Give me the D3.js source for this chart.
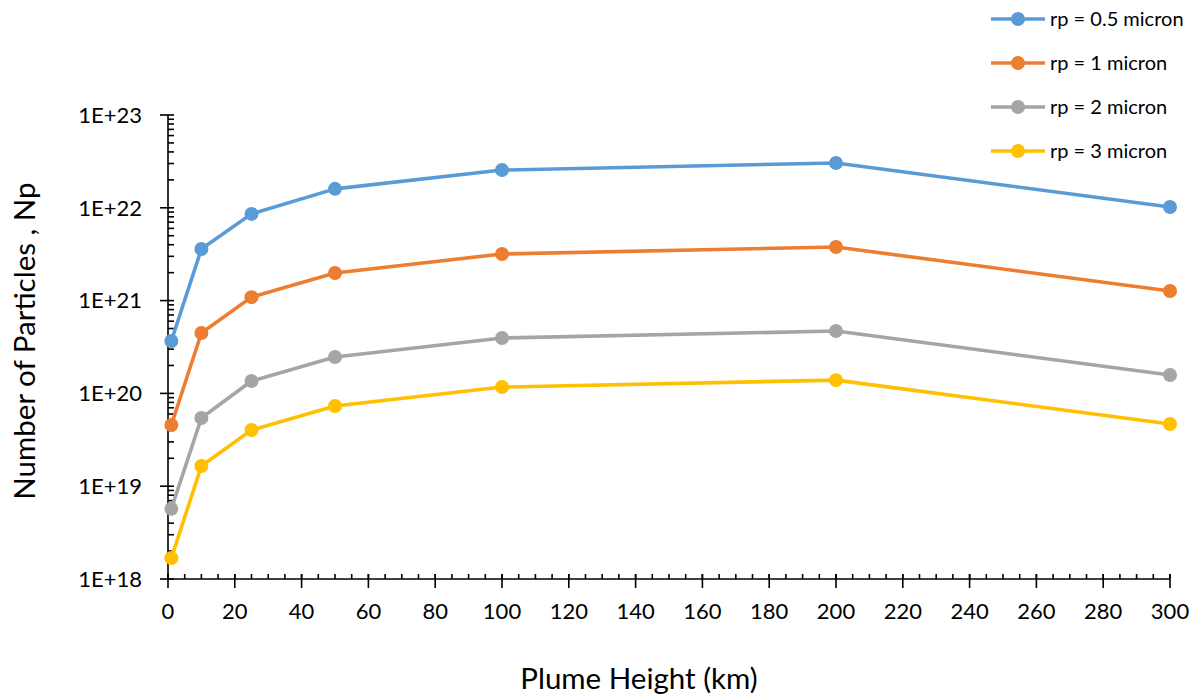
<!DOCTYPE html>
<html>
<head>
<meta charset="utf-8">
<script src="https://d3js.org/d3.v7.min.js"></script>
<style>
  body { margin: 0; background: #fff; }
  svg text { font-family: Lato, "Open Sans", sans-serif; fill: #000; }
  .axis line, .axis path { stroke: #000; stroke-width: 1.6; }
  .tick-label { font-size: 22px; }
  .title { font-size: 29.5px; }
  .legend text { font-size: 20px; }
</style>
</head>
<body>
<svg id="chart" width="1204" height="698"></svg>
<script>
  // plume heights (km)
  var heights = [1, 10, 25, 50, 100, 200, 300];
  var seriesNames = ['rp = 0.5 micron', 'rp = 1 micron', 'rp = 2 micron', 'rp = 3 micron'];
  var colors = ['#5B9BD5', '#ED7D31', '#A5A5A5', '#FFC000'];
  var rp05 = [3.67e20, 3.6e21, 8.6e21, 1.6e22, 2.55e22, 3.04e22, 1.02e22];
  var rp1 = [4.57e19, 4.48e20, 1.09e21, 1.98e21, 3.18e21, 3.78e21, 1.27e21];
  var rp2 = [5.7e18, 5.43e19, 1.36e20, 2.47e20, 3.95e20, 4.7e20, 1.58e20];
  var rp3 = [1.68e18, 1.65e19, 4.03e19, 7.31e19, 1.17e20, 1.39e20, 4.68e19];
  var xTicks = d3.range(0, 301, 20);
  var yTicks = [1e18, 1e19, 1e20, 1e21, 1e22, 1e23];
  var yLabels = ['1E+18', '1E+19', '1E+20', '1E+21', '1E+22', '1E+23'];

  var allSeries = [rp05, rp1, rp2, rp3];

  var svg = d3.select('#chart');
  var x = d3.scaleLinear().domain([0, 300]).range([168, 1170]);
  var y = d3.scaleLog().domain([1e18, 1e23]).range([579, 115]);

  // minor ticks on y (inside)
  var yMinor = [];
  for (var k = 18; k < 23; k++) {
    for (var m = 2; m <= 9; m++) yMinor.push(m * Math.pow(10, k));
  }
  var gy = svg.append('g').attr('class', 'axis');
  gy.append('line').attr('x1', x(0)).attr('x2', x(0)).attr('y1', y(1e18)).attr('y2', y(1e23));
  gy.selectAll('line.minor').data(yMinor).enter().append('line')
    .attr('class', 'minor')
    .attr('x1', x(0)).attr('x2', x(0) + 6)
    .attr('y1', function(d) { return y(d); }).attr('y2', function(d) { return y(d); });
  gy.selectAll('line.major').data(yTicks).enter().append('line')
    .attr('class', 'major')
    .attr('x1', x(0) - 8).attr('x2', x(0) + 6)
    .attr('y1', function(d) { return y(d); }).attr('y2', function(d) { return y(d); });
  gy.selectAll('text').data(yTicks).enter().append('text')
    .attr('class', 'tick-label')
    .attr('x', 142).attr('y', function(d) { return y(d); })
    .attr('dy', '0.35em').attr('text-anchor', 'end')
    .text(function(d, i) { return yLabels[i]; });

  // x axis
  var gx = svg.append('g').attr('class', 'axis');
  gx.append('line').attr('x1', x(0)).attr('x2', x(300)).attr('y1', y(1e18)).attr('y2', y(1e18));
  gx.selectAll('line.minor').data(d3.range(0, 301, 5)).enter().append('line')
    .attr('class', 'minor')
    .attr('x1', function(d) { return x(d); }).attr('x2', function(d) { return x(d); })
    .attr('y1', y(1e18) - 5).attr('y2', y(1e18));
  gx.selectAll('line.major').data(xTicks).enter().append('line')
    .attr('class', 'major')
    .attr('x1', function(d) { return x(d); }).attr('x2', function(d) { return x(d); })
    .attr('y1', y(1e18) - 5).attr('y2', y(1e18) + 9);
  gx.selectAll('text').data(xTicks).enter().append('text')
    .attr('class', 'tick-label')
    .attr('x', function(d) { return x(d); }).attr('y', 619)
    .attr('text-anchor', 'middle')
    .text(function(d) { return d; });

  // titles
  svg.append('text').attr('class', 'title')
    .attr('x', 639).attr('y', 689).attr('text-anchor', 'middle')
    .text('Plume Height (km)');
  svg.append('text').attr('class', 'title')
    .attr('transform', 'translate(35,341) rotate(-90)')
    .attr('text-anchor', 'middle')
    .text('Number of Particles , Np');

  // lines
  var line = d3.line()
    .x(function(d, i) { return x(heights[i]); })
    .y(function(d) { return y(d); });
  allSeries.forEach(function(s, j) {
    var g = svg.append('g');
    g.append('path').datum(s)
      .attr('d', line)
      .attr('fill', 'none')
      .attr('stroke', colors[j])
      .attr('stroke-width', 3.6)
      .attr('stroke-linejoin', 'round');
    g.selectAll('circle').data(s).enter().append('circle')
      .attr('cx', function(d, i) { return x(heights[i]); })
      .attr('cy', function(d) { return y(d); })
      .attr('r', 7)
      .attr('fill', colors[j]);
  });

  // legend
  var legend = svg.append('g').attr('class', 'legend');
  var rows = legend.selectAll('g').data(seriesNames).enter().append('g')
    .attr('transform', function(d, i) { return 'translate(991,' + (19 + i * 44) + ')'; });
  rows.append('line')
    .attr('x1', 0).attr('x2', 54).attr('y1', 0).attr('y2', 0)
    .attr('stroke', function(d, i) { return colors[i]; })
    .attr('stroke-width', 3.6);
  rows.append('circle')
    .attr('cx', 27).attr('cy', 0).attr('r', 7)
    .attr('fill', function(d, i) { return colors[i]; });
  rows.append('text')
    .attr('x', 59).attr('y', 0).attr('dy', '0.35em')
    .text(function(d) { return d; });
</script>
</body>
</html>
